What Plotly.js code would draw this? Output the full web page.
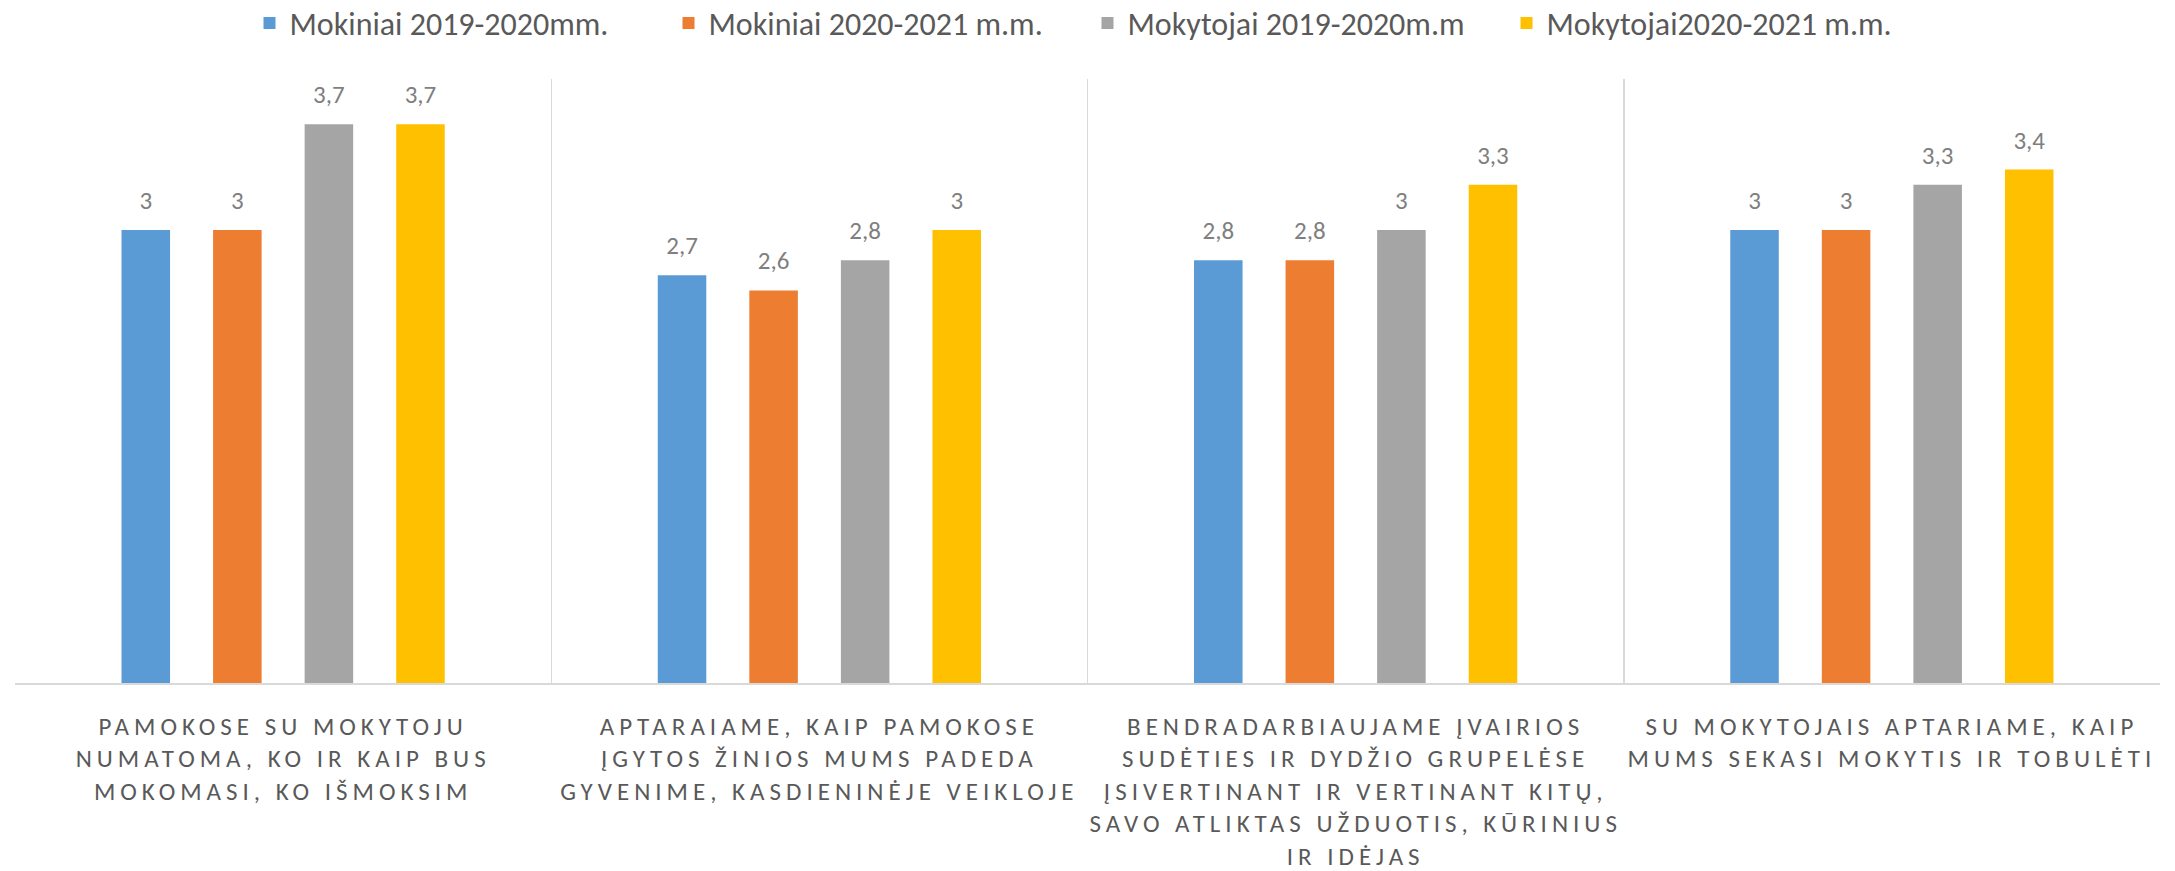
<!DOCTYPE html>
<html>
<head>
<meta charset="utf-8">
<script src="https://cdn.plot.ly/plotly-3.0.1.min.js"></script>
<style>
  html, body { margin: 0; padding: 0; background: #fff; }
  #chart { width: 2175px; height: 871px; }
  .xtick text { letter-spacing: 5px; }
</style>
</head>
<body>
<div id="chart"></div>
<script>
const categories = [
  "PAMOKOSE SU MOKYTOJU<br>NUMATOMA, KO IR KAIP BUS<br>MOKOMASI, KO IŠMOKSIM",
  "APTARAIAME, KAIP PAMOKOSE<br>ĮGYTOS ŽINIOS MUMS PADEDA<br>GYVENIME, KASDIENINĖJE VEIKLOJE",
  "BENDRADARBIAUJAME ĮVAIRIOS<br>SUDĖTIES IR DYDŽIO GRUPELĖSE<br>ĮSIVERTINANT IR VERTINANT KITŲ,<br>SAVO ATLIKTAS UŽDUOTIS, KŪRINIUS<br>IR IDĖJAS",
  "SU MOKYTOJAIS APTARIAME, KAIP<br>MUMS SEKASI MOKYTIS IR TOBULĖTI"
];
const seriesNames = [
  "Mokiniai 2019-2020mm.",
  "Mokiniai 2020-2021 m.m.",
  "Mokytojai 2019-2020m.m",
  "Mokytojai2020-2021 m.m."
];
const mokiniai1920 = [3, 2.7, 2.8, 3];
const mokiniai2021 = [3, 2.6, 2.8, 3];
const mokytojai1920 = [3.7, 2.8, 3, 3.3];
const mokytojai2021 = [3.7, 3, 3.3, 3.4];
const colors = ["#5B9BD5", "#ED7D31", "#A5A5A5", "#FFC000"];

const FONT = "Carlito, Calibri, Lato, 'Open Sans', sans-serif";
const seriesValues = [mokiniai1920, mokiniai2021, mokytojai1920, mokytojai2021];

const barTraces = seriesValues.map((vals, i) => ({
  type: "bar",
  name: seriesNames[i],
  x: categories,
  y: vals,
  marker: { color: colors[i] },
  hoverinfo: "skip"
}));

const labelTraces = seriesValues.map((vals, i) => ({
  type: "scatter",
  mode: "markers+text",
  name: seriesNames[i] + " labels",
  showlegend: false,
  x: categories,
  y: vals,
  texttemplate: "%{y}",
  textposition: "top center",
  marker: { size: 22, color: "rgba(0,0,0,0)" },
  cliponaxis: false,
  textfont: { family: FONT, size: 25, color: "#7F7F7F" },
  hoverinfo: "skip"
}));

const layout = {
  width: 2175,
  height: 871,
  margin: { l: 15, r: 15, t: 79, b: 188 },
  paper_bgcolor: "#ffffff",
  plot_bgcolor: "#ffffff",
  separators: ", ",
  barmode: "group",
  bargap: 0.317,
  bargroupgap: 0.47,
  scattermode: "group",
  scattergap: 0.317,
  showlegend: true,
  legend: {
    orientation: "h",
    x: 0.5, xanchor: "center",
    y: 0.9735, yanchor: "middle",
    yref: "container",
    entrywidth: 374,
    font: { family: FONT, size: 32, color: "#595959" },
    itemwidth: 30,
    traceorder: "normal"
  },
  xaxis: {
    type: "category",
    tickson: "boundaries",
    showgrid: true,
    gridcolor: "#D9D9D9",
    gridwidth: 1.5,
    showline: true,
    linecolor: "#D9D9D9",
    linewidth: 1.5,
    ticks: "",
    ticklabelstandoff: 20,
    tickfont: { family: FONT, size: 25, color: "#595959" },
    tickangle: 0,
    automargin: false
  },
  yaxis: {
    range: [0, 4],
    showgrid: false,
    zeroline: false,
    showticklabels: false,
    ticks: "",
    showline: false
  }
};

Plotly.newPlot("chart", barTraces.concat(labelTraces), layout, { displayModeBar: false, staticPlot: true });
</script>
</body>
</html>
